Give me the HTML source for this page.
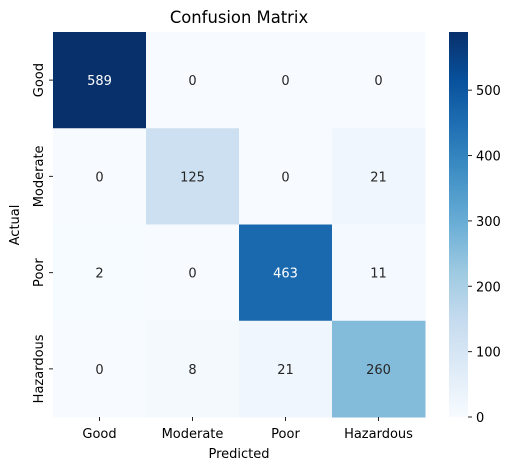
<!DOCTYPE html>
<html><head><meta charset="utf-8"><style>
body{margin:0;background:#fff;font-family:"Liberation Sans","DejaVu Sans",sans-serif;}
</style></head><body>
<svg id="chart" width="513" height="470" xmlns="http://www.w3.org/2000/svg" font-family="DejaVu Sans, Liberation Sans, sans-serif">
<defs><linearGradient id="cbg" x1="0" y1="1" x2="0" y2="0">
<stop offset="0" stop-color="#f7fbff"/><stop offset="0.125" stop-color="#deebf7"/><stop offset="0.25" stop-color="#c6dbef"/><stop offset="0.375" stop-color="#9ecae1"/><stop offset="0.5" stop-color="#6baed6"/><stop offset="0.625" stop-color="#4292c6"/><stop offset="0.75" stop-color="#2171b5"/><stop offset="0.875" stop-color="#08519c"/><stop offset="1" stop-color="#08306b"/></linearGradient></defs>
<text x="239" y="23" text-anchor="middle" font-size="16.4">Confusion Matrix</text>
<g id="cells"></g>
<text x="239" y="458" text-anchor="middle" font-size="13">Predicted</text>
<text transform="translate(19,225) rotate(-90)" text-anchor="middle" font-size="13">Actual</text>
<rect x="449" y="32" width="19" height="385" fill="url(#cbg)"/>
<g id="cbticks"></g>
</svg>
<script>
const categories=["Good","Moderate","Poor","Hazardous"];
const row0=[589,0,0,0];
const row1=[0,125,0,21];
const row2=[2,0,463,11];
const row3=[0,8,21,260];
const cbTicks=[0,100,200,300,400,500];
const matrix=[row0,row1,row2,row3];
const L=53,T=32,W=372,H=385,vmin=0,vmax=Math.max(...matrix.flat());
const cw=W/categories.length,ch=H/categories.length;
const stops=["#f7fbff","#deebf7","#c6dbef","#9ecae1","#6baed6","#4292c6","#2171b5","#08519c","#08306b"].map(h=>[1,3,5].map(i=>parseInt(h.substr(i,2),16)));
function color(v){let t=(v-vmin)/(vmax-vmin)*(stops.length-1);let i=Math.min(Math.floor(t),stops.length-2),f=t-i;
const c=stops[i].map((a,k)=>Math.round(a+(stops[i+1][k]-a)*f));return c;}
const NS="http://www.w3.org/2000/svg";
const g=document.getElementById('cells');
function el(n,a){const e=document.createElementNS(NS,n);for(const k in a)e.setAttribute(k,a[k]);return e;}
matrix.forEach((row,r)=>row.forEach((v,c)=>{
const col=color(v);
const rect=el('rect',{x:L+c*cw,y:T+r*ch,width:cw+0.5,height:ch+0.5,fill:`rgb(${col})`});


g.appendChild(rect);
const lum=(0.2126*col[0]+0.7152*col[1]+0.0722*col[2])/255;
const t=el('text',{x:L+c*cw+cw/2,y:T+r*ch+ch/2+5,'text-anchor':'middle','font-size':'13',fill:lum<0.408?'#fff':'#262626'});
t.textContent=v;


g.appendChild(t);
}));
categories.forEach((name,i)=>{
const x=L+i*cw+cw/2;
g.appendChild(el('line',{x1:x,x2:x,y1:T+H,y2:T+H+4,stroke:'#222'}));
const t=el('text',{x:x,y:T+H+21,'text-anchor':'middle','font-size':'13'});t.textContent=name;


g.appendChild(t);
const y=T+i*ch+ch/2;
g.appendChild(el('line',{x1:L-4,x2:L,y1:y,y2:y,stroke:'#222'}));
const ty=el('text',{transform:`translate(${L-10},${y}) rotate(-90)`,'text-anchor':'middle','font-size':'13'});ty.textContent=name;


g.appendChild(ty);
});
const cb=document.getElementById('cbticks');
cbTicks.forEach(v=>{
const y=T+H-(v-vmin)/(vmax-vmin)*H;
cb.appendChild(el('line',{x1:468,x2:472,y1:y,y2:y,stroke:'#222'}));
const t=el('text',{x:476,y:y+5,'font-size':'13'});t.textContent=v;


cb.appendChild(t);
});
</script>
</body></html>
